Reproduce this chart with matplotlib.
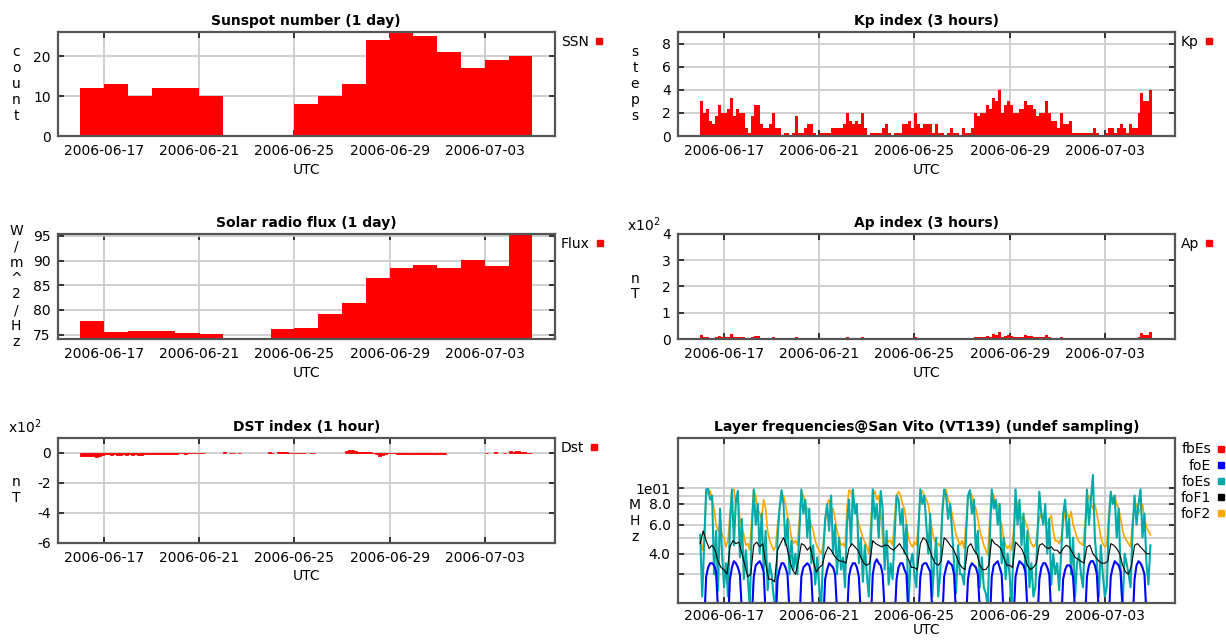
import matplotlib
matplotlib.use('Agg')
import matplotlib.pyplot as plt
import matplotlib.dates as mdates
from matplotlib.lines import Line2D
import numpy as np
import pandas as pd

plt.rcParams['font.family'] = ['DejaVu Sans']
plt.rcParams['font.size'] = 10

nan = np.nan

# ---------------- data ----------------
day_times = pd.date_range('2006-06-16', periods=19, freq='D')
ssn = [12, 13, 10, 12, 12, 10, 0, 0, 0, 8, 10, 13, 24, 26, 25, 21, 17, 19, 20]
flux = [77.7, 75.6, 75.8, 75.7, 75.4, 75.1, 74.3, 74.1, 76.2, 76.4,
        79.2, 81.4, 86.4, 88.5, 89.2, 88.5, 90.1, 89.0, 95.4]

# 3-hour values, one row per day (06-16 .. 07-04)
kp_times = pd.date_range('2006-06-16', periods=152, freq='3h')
kp = [3.0, 2.0, 2.3, 1.3, 1.0, 1.7, 2.7, 2.0,
      2.0, 2.3, 3.3, 1.7, 2.3, 2.0, 2.0, 0.7,
      0.3, 1.7, 2.7, 2.7, 1.0, 0.7, 0.7, 1.0,
      2.0, 0.7, 0.7, 0.0, 0.3, 0.3, 0.0, 0.3,
      1.7, 0.3, 0.3, 0.7, 1.0, 1.0, 0.3, 0.0,
      0.3, 0.3, 0.3, 0.3, 0.7, 0.7, 0.7, 0.7,
      1.0, 2.0, 1.3, 1.0, 1.3, 1.0, 2.0, 0.7,
      0.0, 0.3, 0.3, 0.3, 0.3, 0.7, 1.0, 0.3,
      0.0, 0.3, 0.3, 0.3, 1.0, 1.0, 1.3, 0.7,
      2.0, 1.0, 0.7, 1.0, 1.0, 1.0, 0.3, 1.0,
      0.3, 0.3, 0.0, 0.3, 0.7, 0.3, 0.3, 0.0,
      0.7, 0.3, 0.3, 0.7, 2.0, 1.7, 2.0, 2.0,
      2.7, 2.3, 3.3, 3.0, 4.0, 2.0, 2.7, 3.0,
      2.7, 2.0, 2.0, 2.3, 2.3, 3.0, 2.7, 2.7,
      2.3, 1.7, 2.0, 2.0, 3.0, 2.0, 1.3, 1.3,
      0.7, 2.0, 1.0, 1.0, 1.3, 0.3, 0.3, 0.3,
      0.3, 0.3, 0.3, 0.3, 0.7, 0.3, 0.0, 0.0,
      0.3, 0.7, 0.7, 0.3, 0.7, 1.0, 0.7, 0.3,
      1.0, 0.7, 0.7, 2.0, 3.7, 3.0, 3.0, 4.0]
ap = [15, 7, 9, 5, 4, 6, 12, 7,
      7, 9, 18, 6, 9, 7, 7, 3,
      2, 6, 12, 12, 4, 3, 3, 4,
      7, 3, 3, 0, 2, 2, 0, 2,
      6, 2, 2, 3, 4, 4, 2, 0,
      2, 2, 2, 2, 3, 3, 3, 3,
      4, 7, 5, 4, 5, 4, 7, 3,
      0, 2, 2, 2, 2, 3, 4, 2,
      0, 2, 2, 2, 4, 4, 5, 3,
      7, 4, 3, 4, 4, 4, 2, 4,
      2, 2, 0, 2, 3, 2, 2, 0,
      3, 2, 2, 3, 7, 6, 7, 7,
      12, 9, 18, 15, 27, 7, 12, 15,
      12, 7, 7, 9, 9, 15, 12, 12,
      9, 6, 7, 7, 15, 7, 5, 5,
      3, 7, 4, 4, 5, 2, 2, 2,
      2, 2, 2, 2, 3, 2, 0, 0,
      2, 3, 3, 2, 3, 4, 3, 2,
      4, 3, 3, 7, 22, 15, 15, 27]
dst = [-20, -22, -20, -22, -22, -24, -18, -12,
       -8, -10, -12, -10, -14, -12, -10, -12,
       -10, -12, -10, -14, -12, -8, -8, -6,
       -6, -8, -5, -6, -7, -5, -6, -4,
       -4, -3, -3, -5, -3, -2, -3, -2,
       -2, -2, nan, nan, nan, nan, nan, nan,
       3, nan, -2, -3, nan, -2, nan, nan,
       nan, nan, nan, nan, nan, nan, nan, 3,
       2, nan, 4, 5, 4, 3, 2, 0,
       0, 0, -1, 0, nan, -1, 0, nan,
       nan, nan, nan, nan, nan, nan, nan, nan,
       nan, 12, 20, 18, 10, 8, 6, 8,
       8, 5, 2, -10, -18, -15, -8, -3,
       0, -2, -8, -10, -8, -7, -9, -8,
       -7, -8, -10, -8, -9, -7, -10, -8,
       -7, -6, -5, nan, nan, nan, nan, nan,
       nan, nan, nan, nan, nan, nan, nan, nan,
       0, nan, nan, 3, nan, nan, 0, nan,
       10, 8, 12, 14, 6, 5, 2, -3]

# ionosonde, 2-hour values, one row per day
iono_times = pd.date_range('2006-06-16', periods=228, freq='2h')
foEs = [5.2, 2.2, 4.5, 9.8, 9.9, 8.5, 9.0, 3.0, 5.5, 2.4, 7.5, 4.0,
        2.5, 3.5, 2.2, 6.0, 9.8, 4.5, 8.5, 9.6, 3.8, 6.5, 2.8, 4.2,
        2.8, 1.9, 5.5, 9.8, 6.0, 8.0, 4.0, 7.0, 3.2, 5.5, 2.4, 3.5,
        3.0, 2.2, 1.9, 5.0, 7.5, 9.7, 8.0, 4.5, 6.5, 3.0, 4.8, 3.2,
        4.0, 3.0, 5.5, 9.8, 7.0, 8.5, 5.0, 7.5, 3.5, 4.5, 2.6, 3.8,
        2.5, 1.9, 4.0, 6.5, 8.0, 5.5, 9.0, 4.0, 6.0, 3.0, 5.0, 3.2,
        3.8, 2.5, 6.0, 8.5, 4.5, 9.8, 7.0, 8.0, 3.5, 5.0, 2.7, 4.5,
        3.0, 2.2, 4.5, 9.8, 6.5, 8.0, 5.0, 9.6, 7.5, 3.2, 5.5, 2.6,
        3.5, 2.8, 5.0, 9.0, 8.5, 6.0, 7.5, 4.0, 6.0, 1.9, 3.5, 4.0,
        3.0, 2.5, 5.5, 9.8, 8.0, 9.0, 6.0, 4.0, 7.0, 2.2, 3.5, 5.0,
        2.2, 3.0, 7.0, 9.8, 9.0, 6.5, 8.0, 5.5, 3.5, 2.3, 4.5, 3.0,
        3.0, 2.6, 5.0, 9.0, 9.7, 7.0, 8.5, 4.0, 5.5, 2.5, 3.8, 2.5,
        2.3, 1.9, 5.0, 9.8, 7.5, 8.5, 6.0, 8.0, 3.5, 5.0, 2.8, 4.0,
        3.0, 1.9, 4.5, 9.8, 6.0, 8.5, 4.5, 7.0, 3.0, 5.5, 2.5, 3.5,
        2.2, 2.5, 5.0, 9.5, 7.0, 6.0, 8.0, 4.0, 6.5, 2.6, 4.0, 3.0,
        3.5, 2.4, 4.0, 7.0, 8.5, 5.0, 6.5, 3.0, 5.0, 2.2, 3.5, 4.0,
        3.0, 2.5, 5.0, 9.8, 6.0, 8.5, 12.0, 5.0, 3.5, 2.2, 4.5, 3.0,
        2.2, 2.5, 6.0, 9.5, 8.0, 9.0, 5.0, 7.5, 3.0, 1.9, 4.0, 3.5,
        3.0, 2.5, 5.5, 9.0, 6.0, 8.0, 9.8, 5.0, 7.0, 3.5, 2.6, 4.5]
foF2 = [4.8, 4.2, 5.0, 9.0, 9.5, 9.6, 8.5, 7.5, 6.0, 5.5, 6.0, 5.2,
        5.0, 4.4, 4.8, 7.0, 9.7, 9.8, 8.0, 8.8, 6.5, 5.8, 5.2, 4.5,
        4.6, 4.2, 6.5, 9.7, 9.0, 7.5, 7.0, 6.5, 8.5, 7.5, 5.5, 4.8,
        4.5, 4.2, 4.4, 6.0, 7.5, 8.5, 9.0, 8.0, 6.8, 6.0, 5.0, 4.6,
        4.8, 4.5, 6.5, 9.5, 9.0, 8.0, 7.5, 6.5, 6.0, 5.5, 4.8, 4.4,
        4.2, 4.0, 4.5, 6.0, 8.0, 8.5, 7.0, 7.5, 6.5, 5.5, 5.0, 4.5,
        4.6, 4.4, 7.5, 9.7, 9.5, 8.5, 8.0, 7.0, 6.0, 5.5, 5.0, 4.7,
        4.4, 4.0, 6.0, 9.0, 9.6, 8.5, 9.0, 7.0, 5.0, 3.8, 4.5, 4.8,
        4.8, 4.5, 6.5, 9.0, 9.5, 9.0, 8.0, 7.5, 6.0, 5.0, 4.6, 4.4,
        4.7, 4.5, 6.0, 9.5, 9.6, 9.0, 8.5, 8.0, 6.5, 5.5, 4.8, 4.6,
        4.6, 4.4, 6.5, 9.6, 9.8, 8.5, 8.0, 7.0, 6.0, 5.2, 4.8, 4.5,
        4.8, 4.3, 6.0, 8.5, 9.5, 9.0, 8.0, 7.5, 6.5, 5.5, 5.0, 4.5,
        4.2, 3.9, 6.5, 9.5, 9.0, 7.5, 8.0, 6.5, 6.0, 5.0, 4.5, 4.3,
        4.5, 4.2, 5.5, 8.0, 8.2, 7.0, 6.5, 6.8, 6.2, 5.8, 5.0, 4.6,
        4.4, 4.5, 5.5, 6.5, 7.0, 6.8, 6.5, 6.0, 6.5, 6.8, 5.5, 4.8,
        4.8, 4.6, 5.0, 6.0, 7.5, 7.0, 6.5, 7.2, 6.0, 5.5, 5.0, 4.7,
        4.6, 4.5, 6.0, 8.5, 9.0, 8.0, 7.5, 8.0, 7.0, 6.0, 5.0, 4.6,
        4.4, 4.5, 7.0, 9.0, 8.5, 9.0, 8.0, 7.5, 6.5, 5.5, 5.0, 4.8,
        4.6, 4.4, 6.5, 7.5, 8.0, 7.0, 7.5, 8.0, 6.5, 5.8, 5.5, 5.2]
foE = [1.5, 1.5, 1.5, 2.9, 3.3, 3.5, 3.5, 3.4, 3.1, 1.8, 1.5, 1.5,
       1.5, 1.5, 1.5, 2.8, 3.3, 3.6, 3.5, 3.3, 3.0, 1.8, 1.5, 1.5,
       1.5, 1.5, 1.6, 2.9, 3.4, 3.5, 3.6, 3.4, 3.1, 1.7, 1.5, 1.5,
       1.5, 1.5, 1.5, 2.8, 3.2, 3.5, 3.5, 3.3, 3.0, 1.8, 1.5, 1.5,
       1.5, 1.5, 1.5, 2.9, 3.3, 3.4, 3.5, 3.4, 3.0, 1.7, 1.5, 1.5,
       1.5, 1.5, 1.5, 2.8, 3.2, 3.5, 3.4, 3.3, 3.0, 1.8, 1.5, 1.5,
       1.5, 1.5, 1.6, 2.9, 3.3, 3.5, 3.5, 3.3, 2.9, 1.7, 1.5, 1.5,
       1.5, 1.5, 1.5, 3.0, 3.5, 3.7, 3.5, 3.4, 3.0, 1.8, 1.5, 1.5,
       1.5, 1.5, 1.5, 2.8, 3.3, 3.5, 3.5, 3.2, 3.0, 1.7, 1.5, 1.5,
       1.5, 1.5, 1.6, 2.9, 3.4, 3.5, 3.5, 3.3, 3.1, 1.8, 1.5, 1.5,
       1.5, 1.5, 1.5, 2.9, 3.3, 3.6, 3.5, 3.4, 3.0, 1.7, 1.5, 1.5,
       1.5, 1.5, 1.5, 2.8, 3.3, 3.5, 3.4, 3.3, 3.0, 1.8, 1.5, 1.5,
       1.5, 1.5, 1.5, 2.9, 3.4, 3.5, 3.6, 3.3, 3.0, 1.7, 1.5, 1.5,
       1.5, 1.5, 1.6, 2.9, 3.3, 3.6, 3.5, 3.4, 3.1, 1.8, 1.5, 1.5,
       1.5, 1.5, 1.5, 2.8, 3.3, 3.5, 3.5, 3.3, 3.0, 1.7, 1.5, 1.5,
       1.5, 1.5, 1.5, 2.8, 3.2, 3.4, 3.4, 3.3, 2.9, 1.8, 1.5, 1.5,
       1.5, 1.5, 1.5, 2.9, 3.4, 3.6, 3.6, 3.4, 3.0, 1.7, 1.5, 1.5,
       1.5, 1.5, 1.6, 2.9, 3.3, 3.6, 3.5, 3.4, 3.1, 1.8, 1.5, 1.5,
       1.5, 1.5, 1.5, 2.8, 3.4, 3.6, 3.5, 3.3, 3.0, 1.7, 1.5, 1.5]
f1_times = pd.date_range('2006-06-16', periods=152, freq='3h')
foF1 = [4.6, 5.5, 4.8, 4.3, 4.5, 4.2, 3.6, 3.3,
        3.2, 3.0, 4.4, 4.8, 4.6, 4.7, 4.0, 3.4,
        2.9, 3.0, 4.5, 4.7, 4.4, 4.6, 3.5, 2.8,
        2.8, 2.7, 4.2, 4.6, 5.0, 4.5, 3.7, 3.2,
        3.0, 3.6, 4.6, 4.5, 4.2, 4.4, 3.6, 3.1,
        3.3, 3.4, 4.0, 4.4, 4.2, 3.9, 3.7, 3.6,
        3.6, 3.5, 4.3, 4.6, 4.4, 4.2, 3.8, 3.5,
        3.4, 3.5, 4.8, 4.6, 4.5, 4.4, 4.5, 4.5,
        4.3, 4.2, 4.4, 4.6, 4.3, 4.0, 3.7, 3.3,
        3.3, 3.2, 4.6, 5.0, 4.8, 4.3, 3.8, 3.5,
        3.4, 3.6, 5.0, 4.8, 4.5, 4.3, 3.9, 3.5,
        3.3, 3.2, 4.4, 4.6, 4.2, 4.0, 3.4, 3.2,
        3.2, 3.4, 4.9, 4.6, 4.5, 4.3, 3.8, 3.4,
        3.4, 3.3, 4.7, 4.5, 4.3, 3.9, 3.4, 3.2,
        3.3, 3.5, 4.5, 4.6, 4.4, 4.3, 4.4, 4.2,
        4.2, 4.0, 4.3, 4.5, 4.4, 4.1, 3.8, 3.7,
        3.6, 3.5, 4.4, 4.5, 4.0, 3.8, 3.6, 3.5,
        3.5, 3.6, 4.6, 4.5, 4.3, 4.0, 3.4, 3.1,
        3.0, 3.4, 4.5, 4.6, 4.4, 4.2, 4.0, 4.0]
fbEs = []

tick_dates = pd.date_range('2006-06-17', periods=5, freq='4D')

# ---------------- style ----------------
RED = '#ff0000'
GRID = '#cdcdcd'
FRAME = '#555555'

x_lo = mdates.date2num(np.datetime64('2006-06-15T01:12'))
x_hi = mdates.date2num(np.datetime64('2006-07-05T22:48'))


def num(t):
    return mdates.date2num(t.values)


def style(ax, title, ylab, ylab_x):
    ax.set_xlim(x_lo, x_hi)
    ax.set_xticks(num(tick_dates))
    ax.xaxis.set_major_formatter(mdates.DateFormatter('%Y-%m-%d'))
    ax.grid(True, color=GRID, lw=1.3)
    ax.set_axisbelow(True)
    for s in ax.spines.values():
        s.set_color(FRAME)
        s.set_linewidth(1.6)
    ax.tick_params(direction='in', length=4, width=1.4, color='#333333',
                   top=True, right=True, labelsize=10, pad=5)
    ax.tick_params(axis='x', pad=6)
    ax.set_title(title, fontsize=10, fontweight='bold', pad=5)
    ax.set_xlabel('UTC', fontsize=10, labelpad=3)
    ax.text(ylab_x, 0.5, '\n'.join(ylab), transform=ax.transAxes,
            ha='center', va='center', linespacing=1.18, fontsize=10)


def legend(ax, labels, colors):
    handles = [Line2D([], [], ls='none', marker='s', ms=5, color=c, mec=c)
               for c in colors]
    ax.legend(handles, labels, loc='upper left', bbox_to_anchor=(1.012, 0.975),
              frameon=False, markerfirst=False, handlelength=0.6,
              handletextpad=0.4, borderpad=0, borderaxespad=0,
              labelspacing=0.15, fontsize=10)


fig = plt.figure(figsize=(12.26, 6.4), dpi=100)

LX, RX, WD = 0.04698, 0.55269, 0.40571
ax_ssn = fig.add_axes([LX, 0.7875, WD, 0.1625])
ax_kp = fig.add_axes([RX, 0.7875, WD, 0.1625])
ax_flux = fig.add_axes([LX, 0.4703, WD, 0.1641])
ax_ap = fig.add_axes([RX, 0.4703, WD, 0.1641])
ax_dst = fig.add_axes([LX, 0.1523, WD, 0.1633])
ax_ion = fig.add_axes([RX, 0.0573, WD, 0.2578])

# Sunspot number
ax_ssn.bar(num(day_times), ssn, width=1.0, align='edge', color=RED, lw=0)
style(ax_ssn, 'Sunspot number (1 day)', 'count', -0.0836)
ax_ssn.set_ylim(0, max(ssn))
ax_ssn.set_yticks([0, 10, 20])
legend(ax_ssn, ['SSN'], [RED])

# Kp
ax_kp.bar(num(kp_times), kp, width=0.125, align='edge', color=RED, lw=0)
style(ax_kp, 'Kp index (3 hours)', 'steps', -0.0857)
ax_kp.set_ylim(0, 9)
ax_kp.set_yticks([0, 2, 4, 6, 8])
legend(ax_kp, ['Kp'], [RED])

# Solar flux
f_lo, f_hi = min(flux), max(flux)
ax_flux.bar(num(day_times), np.array(flux) - f_lo, bottom=f_lo, width=1.0,
            align='edge', color=RED, lw=0)
style(ax_flux, 'Solar radio flux (1 day)', ['W', '/', 'm', '^', '2', '/', 'H', 'z'], -0.0836)
ax_flux.set_ylim(f_lo, f_hi)
ax_flux.set_yticks([75, 80, 85, 90, 95])
legend(ax_flux, ['Flux'], [RED])

# Ap
ax_ap.bar(num(kp_times), ap, width=0.125, align='edge', color=RED, lw=0)
style(ax_ap, 'Ap index (3 hours)', 'nT', -0.0857)
ax_ap.set_ylim(0, 400)
ax_ap.set_yticks([0, 100, 200, 300, 400], ['0', '1', '2', '3', '4'])
ax_ap.text(-0.035, 1.086, r'x10$^{2}$', transform=ax_ap.transAxes,
           ha='right', va='center', fontsize=10)
legend(ax_ap, ['Ap'], [RED])

# DST
dst_arr = np.array(dst, dtype=float)
ok = np.isfinite(dst_arr)
ax_dst.bar(num(kp_times)[ok], dst_arr[ok], width=0.125, align='edge',
           color=RED, edgecolor=RED, lw=0.6)
style(ax_dst, 'DST index (1 hour)', 'nT', -0.0836)
ax_dst.set_ylim(-600, 100)
ax_dst.set_yticks([0, -200, -400, -600], ['0', '-2', '-4', '-6'])
ax_dst.text(-0.033, 1.105, r'x10$^{2}$', transform=ax_dst.transAxes,
            ha='right', va='center', fontsize=10)
legend(ax_dst, ['Dst'], [RED])

# Layer frequencies
ti = num(iono_times)
ax_ion.plot(ti, foF2, color='#ffa500', lw=1.2)
ax_ion.plot(ti, foEs, color='#00aaaa', lw=1.5)
ax_ion.plot(num(f1_times), foF1, color='black', lw=0.8)
ax_ion.plot(ti, foE, color='#0000ff', lw=1.5)
ax_ion.plot([], fbEs, color=RED)
style(ax_ion, 'Layer frequencies@San Vito (VT139) (undef sampling)', 'MHz', -0.0857)
ax_ion.set_xlabel('UTC', fontsize=10, labelpad=0)
ax_ion.set_yscale('log')
ax_ion.set_ylim(2, 20)
ax_ion.set_yticks([3, 4, 6, 8, 10], ['', '4.0', '6.0', '8.0', '1e01'])
ax_ion.set_yticks([5, 7, 9], minor=True)
ax_ion.yaxis.set_minor_formatter(matplotlib.ticker.NullFormatter())
ax_ion.tick_params(axis='y', which='minor', length=0)
ax_ion.tick_params(axis='x', pad=4)
ax_ion.grid(True, which='minor', axis='y', color=GRID, lw=1.3)
legend(ax_ion, ['fbEs', 'foE', 'foEs', 'foF1', 'foF2'],
       [RED, '#0000ff', '#00aaaa', 'black', '#ffa500'])

fig.savefig('out.png', dpi=100)
